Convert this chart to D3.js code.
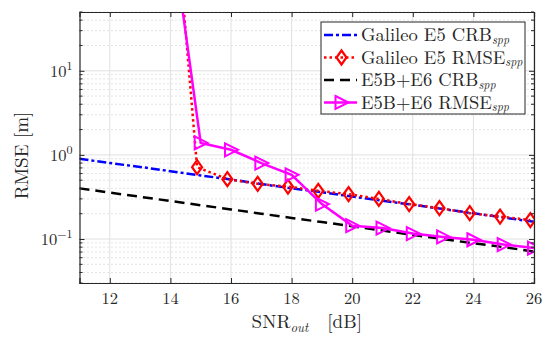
<!DOCTYPE html>
<html>
<head>
<meta charset="utf-8">
<script src="https://cdn.jsdelivr.net/npm/d3@7"></script>
<style>
  body { margin: 0; background: #fff; }
</style>
</head>
<body>
<div id="chart"></div>
<script>
// SNR_out [dB] values for each curve
const crbSnr = [11, 12, 13, 14, 15, 16, 17, 18, 19, 20, 21, 22, 23, 24, 25, 26];
const rmseE5Snr = [13.88, 14.88, 15.88, 16.88, 17.88, 18.88, 19.88, 20.88, 21.88, 22.88, 23.88, 24.88, 25.88];
const rmseE5bE6Snr = [14, 15, 16, 17, 18, 19, 20, 21, 22, 23, 24, 25, 26];

// RMSE [m]
const crbE5 = [0.90, 0.80, 0.72, 0.64, 0.57, 0.51, 0.45, 0.40, 0.36, 0.32, 0.285, 0.255, 0.227, 0.202, 0.18, 0.16];
const rmseE5 = [13800, 0.715, 0.515, 0.453, 0.42, 0.374, 0.342, 0.30, 0.26, 0.233, 0.203, 0.185, 0.168];
const crbE5bE6 = [0.40, 0.356, 0.318, 0.283, 0.252, 0.225, 0.20, 0.178, 0.159, 0.142, 0.126, 0.112, 0.10, 0.089, 0.080, 0.071];
const rmseE5bE6 = [600, 1.39, 1.15, 0.80, 0.58, 0.26, 0.144, 0.135, 0.116, 0.106, 0.098, 0.086, 0.078];

const xTicks = [12, 14, 16, 18, 20, 22, 24, 26];
const yTicks = [0.1, 1, 10];
const yTickExp = ["\u22121", "0", "1"];

const series = [
  { name: "Galileo E5 CRB", x: crbSnr, y: crbE5, color: "#0000ff", dash: "9,3,3,3", marker: null },
  { name: "Galileo E5 RMSE", x: rmseE5Snr, y: rmseE5, color: "#ff0000", dash: "2.5,3", marker: "diamond" },
  { name: "E5B+E6 CRB", x: crbSnr, y: crbE5bE6, color: "#000000", dash: "10,6", marker: null },
  { name: "E5B+E6 RMSE", x: rmseE5bE6Snr, y: rmseE5bE6, color: "#ff00ff", dash: null, marker: "triangle" }
];

const width = 545, height = 338;
const margin = { left: 79.5, right: 11, top: 12, bottom: 55 };
const innerW = width - margin.left - margin.right;
const innerH = height - margin.top - margin.bottom;
const axisColor = "#262626";
const serif = "Latin Modern Roman";

const svg = d3.select("#chart").append("svg")
  .attr("width", width)
  .attr("height", height);

const x = d3.scaleLinear().domain([11, 26]).range([0, innerW]);
const y = d3.scaleLog().domain([0.03, 50]).range([innerH, 0]);

const g = svg.append("g").attr("transform", `translate(${margin.left},${margin.top})`);

// minor log ticks
const minorY = [];
[0.01, 0.1, 1, 10].forEach(base => {
  for (let k = 2; k <= 9; k++) {
    const v = base * k;
    if (v >= 0.03 && v <= 50) minorY.push(v);
  }
});

// grid
g.append("g").selectAll("line").data(minorY).join("line")
  .attr("x1", 0).attr("x2", innerW)
  .attr("y1", d => y(d)).attr("y2", d => y(d))
  .attr("stroke", "#c8c8c8").attr("stroke-width", 1).attr("stroke-dasharray", "1,3");

g.append("g").selectAll("line").data(yTicks).join("line")
  .attr("x1", 0).attr("x2", innerW)
  .attr("y1", d => y(d)).attr("y2", d => y(d))
  .attr("stroke", "#e0e0e0").attr("stroke-width", 1);

g.append("g").selectAll("line").data(xTicks).join("line")
  .attr("x1", d => x(d)).attr("x2", d => x(d))
  .attr("y1", 0).attr("y2", innerH)
  .attr("stroke", "#e0e0e0").attr("stroke-width", 1);

// clip for data
svg.append("defs").append("clipPath").attr("id", "plotclip")
  .append("rect").attr("width", innerW).attr("height", innerH);

const plot = g.append("g").attr("clip-path", "url(#plotclip)");

const line = d3.line().x(d => x(d[0])).y(d => y(d[1]));

function drawMarker(sel, type, color) {
  if (type === "diamond") {
    sel.append("path")
      .attr("d", "M0,-7L5,0L0,7L-5,0Z")
      .attr("fill", "none").attr("stroke", color).attr("stroke-width", 2.2);
  } else if (type === "triangle") {
    sel.append("path")
      .attr("d", "M-6,-6.5L7,0L-6,6.5Z")
      .attr("fill", "none").attr("stroke", color).attr("stroke-width", 2);
  }
}

series.forEach(s => {
  const pts = s.x.map((v, i) => [v, s.y[i]]);
  plot.append("path")
    .datum(pts)
    .attr("d", line)
    .attr("fill", "none")
    .attr("stroke", s.color)
    .attr("stroke-width", 2.5)
    .attr("stroke-dasharray", s.dash);
  if (s.marker) {
    plot.append("g").selectAll("g").data(pts.filter(p => y(p[1]) >= 0)).join("g")
      .attr("transform", d => `translate(${x(d[0])},${y(d[1])})`)
      .each(function () { drawMarker(d3.select(this), s.marker, s.color); });
  }
});

// axes frame
const xAxis = d3.axisBottom(x).tickValues(xTicks).tickSize(-5).tickFormat("");
const xAxisTop = d3.axisTop(x).tickValues(xTicks).tickSize(-5).tickFormat("");
const yAxis = d3.axisLeft(y).tickValues(yTicks).tickSize(-5).tickFormat("");
const yAxisRight = d3.axisRight(y).tickValues(yTicks).tickSize(-5).tickFormat("");

function styleAxis(a) {
  a.select(".domain").attr("stroke", axisColor).attr("stroke-width", 1.2);
  a.selectAll(".tick line").attr("stroke", axisColor);
}

styleAxis(g.append("g").attr("transform", `translate(0,${innerH})`).call(xAxis));
styleAxis(g.append("g").call(xAxisTop));
styleAxis(g.append("g").call(yAxis));
styleAxis(g.append("g").attr("transform", `translate(${innerW},0)`).call(yAxisRight));

// minor y ticks on both sides
g.append("g").selectAll("line").data(minorY).join("line")
  .attr("x1", 0).attr("x2", 3)
  .attr("y1", d => y(d)).attr("y2", d => y(d))
  .attr("stroke", axisColor);
g.append("g").selectAll("line").data(minorY).join("line")
  .attr("x1", innerW - 3).attr("x2", innerW)
  .attr("y1", d => y(d)).attr("y2", d => y(d))
  .attr("stroke", axisColor);

// tick labels
g.append("g").selectAll("text").data(xTicks).join("text")
  .attr("x", d => x(d)).attr("y", innerH + 21)
  .attr("text-anchor", "middle")
  .attr("font-family", serif)
  .attr("font-size", 16.5)
  .attr("fill", axisColor)
  .text(d => d);

const yLab = g.append("g").selectAll("text").data(yTicks).join("text")
  .attr("x", -7).attr("y", d => y(d) + 6)
  .attr("text-anchor", "end")
  .attr("font-family", serif)
  .attr("font-size", 16.5)
  .attr("fill", axisColor);
yLab.append("tspan").text("10");
yLab.append("tspan").attr("dy", -7).attr("font-size", 12).text((d, i) => yTickExp[i]);

// axis titles
const xt = svg.append("text")
  .attr("x", margin.left + innerW / 2).attr("y", 328)
  .attr("text-anchor", "middle")
  .attr("font-family", serif)
  .attr("font-size", 19)
  .attr("fill", axisColor);
xt.append("tspan").text("SNR");
xt.append("tspan").attr("font-style", "italic").attr("font-size", 13).attr("dy", 3.5).text("out");
xt.append("tspan").attr("dy", -3.5).text("\u00a0\u2002[dB]");

svg.append("text")
  .attr("transform", `translate(28,${margin.top + innerH / 2 + 8}) rotate(-90)`)
  .attr("text-anchor", "middle")
  .attr("font-family", serif)
  .attr("font-size", 19)
  .attr("fill", axisColor)
  .text("RMSE [m]");

// legend
const leg = svg.append("g").attr("transform", "translate(321,22)");
leg.append("rect")
  .attr("width", 204).attr("height", 92)
  .attr("fill", "#fff").attr("stroke", axisColor).attr("stroke-width", 1);

series.forEach((s, i) => {
  const row = leg.append("g").attr("transform", `translate(0,${13 + i * 22.5})`);
  row.append("line")
    .attr("x1", 3).attr("x2", 36)
    .attr("stroke", s.color).attr("stroke-width", 2.5)
    .attr("stroke-dasharray", s.dash);
  if (s.marker) {
    const m = row.append("g").attr("transform", "translate(20.5,0)");
    drawMarker(m, s.marker, s.color);
  }
  const t = row.append("text")
    .attr("x", 40).attr("y", 6)
    .attr("font-family", serif)
    .attr("font-size", 18.5)
    .attr("fill", axisColor);
  t.append("tspan").text(s.name);
  t.append("tspan").attr("font-style", "italic").attr("font-size", 12).attr("dy", 2.5).text("spp");
});
</script>
</body>
</html>
